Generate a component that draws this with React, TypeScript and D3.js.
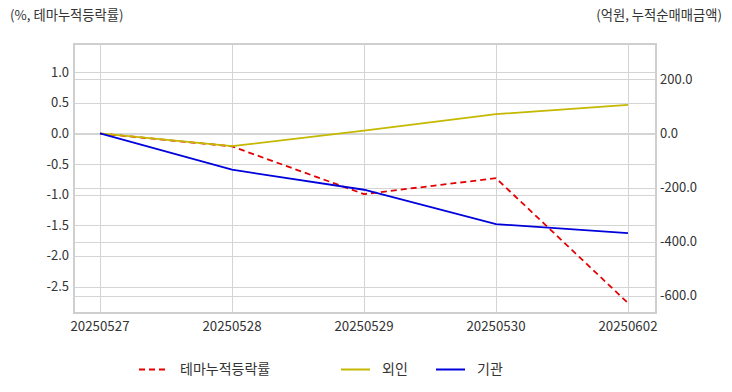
import React, { useEffect, useRef } from 'react'
import * as d3 from 'd3'

const dates = ['20250527', '20250528', '20250529', '20250530', '20250602']
const themeRate = [0.0, -0.21, -0.99, -0.73, -2.77]
const foreign = [0, -47, 10, 71, 105]
const institution = [0, -134, -208, -335, -368]

const leftTicks = [1.0, 0.5, 0.0, -0.5, -1.0, -1.5, -2.0, -2.5]
const rightTicks = [200, 0, -200, -400, -600]

const width = 732
const height = 392
const font = '"Noto Sans CJK KR", "Noto Sans", sans-serif'

export default function App() {
  const ref = useRef<SVGSVGElement>(null)

  useEffect(() => {
    const svg = d3.select(ref.current)
    svg.selectAll('*').remove()

    const plot = { left: 74, right: 656, top: 44, bottom: 313 }

    const x = d3
      .scalePoint<string>()
      .domain(dates)
      .range([plot.left + 26, plot.right - 28])
    const yLeft = d3.scaleLinear().domain([-2.933, 1.463]).range([plot.bottom, plot.top])
    const yRight = d3.scaleLinear().domain([-663, 330]).range([plot.bottom, plot.top])

    const g = svg.append('g').style('font-family', font)

    // grid, both axes draw their own horizontal lines
    const grid = g.append('g').attr('stroke', '#d4d4d4').attr('stroke-width', 1)
    grid
      .selectAll('line.l')
      .data(leftTicks)
      .join('line')
      .attr('x1', plot.left)
      .attr('x2', plot.right)
      .attr('y1', (d) => Math.round(yLeft(d)) + 0.5)
      .attr('y2', (d) => Math.round(yLeft(d)) + 0.5)
    grid
      .selectAll('line.r')
      .data(rightTicks)
      .join('line')
      .attr('x1', plot.left)
      .attr('x2', plot.right)
      .attr('y1', (d) => Math.round(yRight(d)) + 0.5)
      .attr('y2', (d) => Math.round(yRight(d)) + 0.5)
    grid
      .selectAll('line.v')
      .data(dates)
      .join('line')
      .attr('x1', (d) => Math.round(x(d)!) + 0.5)
      .attr('x2', (d) => Math.round(x(d)!) + 0.5)
      .attr('y1', plot.top)
      .attr('y2', plot.bottom)

    g.append('rect')
      .attr('x', plot.left)
      .attr('y', plot.top)
      .attr('width', plot.right - plot.left)
      .attr('height', plot.bottom - plot.top)
      .attr('fill', 'none')
      .attr('stroke', '#cfcfcf')
      .attr('stroke-width', 2)

    // tick labels
    g.append('g')
      .selectAll('text')
      .data(leftTicks)
      .join('text')
      .attr('x', plot.left - 5)
      .attr('y', (d) => yLeft(d))
      .attr('dy', '0.35em')
      .attr('text-anchor', 'end')
      .attr('font-size', 13)
      .attr('fill', '#333')
      .text((d) => d.toFixed(1))
    g.append('g')
      .selectAll('text')
      .data(rightTicks)
      .join('text')
      .attr('x', plot.right + 4)
      .attr('y', (d) => yRight(d))
      .attr('dy', '0.35em')
      .attr('font-size', 13)
      .attr('fill', '#333')
      .text((d) => d.toFixed(1))
    g.append('g')
      .selectAll('text')
      .data(dates)
      .join('text')
      .attr('x', (d) => x(d)!)
      .attr('y', plot.bottom + 13)
      .attr('dy', '0.35em')
      .attr('text-anchor', 'middle')
      .attr('font-size', 13.3)
      .attr('fill', '#333')
      .text((d) => d)

    // axis titles
    g.append('text')
      .attr('x', 10)
      .attr('y', 20)
      .attr('font-size', 13.3)
      .attr('fill', '#333')
      .text('(%, 테마누적등락률)')
    g.append('text')
      .attr('x', 722)
      .attr('y', 20)
      .attr('text-anchor', 'end')
      .attr('font-size', 13.3)
      .attr('fill', '#333')
      .text('(억원, 누적순매매금액)')

    const series = [
      { name: '테마누적등락률', values: themeRate, scale: yLeft, color: '#e50000', dash: '6,4' },
      { name: '외인', values: foreign, scale: yRight, color: '#c4b800', dash: null },
      { name: '기관', values: institution, scale: yRight, color: '#0000dc', dash: null },
    ]

    series.forEach((s) => {
      const line = d3
        .line<number>()
        .x((_, i) => x(dates[i])!)
        .y((d) => s.scale(d))
      g.append('path')
        .datum(s.values)
        .attr('d', line)
        .attr('fill', 'none')
        .attr('stroke', s.color)
        .attr('stroke-width', 1.8)
        .attr('stroke-dasharray', s.dash)
    })

    // legend
    const legendPos = [139, 341, 436]
    const legend = g.append('g')
    series.forEach((s, i) => {
      const lx = legendPos[i]
      legend
        .append('line')
        .attr('x1', lx)
        .attr('x2', lx + 29)
        .attr('y1', 369.5)
        .attr('y2', 369.5)
        .attr('stroke', s.color)
        .attr('stroke-width', 2)
        .attr('stroke-dasharray', s.dash)
      legend
        .append('text')
        .attr('x', lx + 41)
        .attr('y', 369)
        .attr('dy', '0.35em')
        .attr('font-size', 14)
        .attr('fill', '#333')
        .text(s.name)
    })
  }, [])

  return (
    <div style={{ position: 'fixed', left: 0, top: 0 }}>
      <svg ref={ref} width={width} height={height} style={{ display: 'block', background: '#fff' }} />
    </div>
  )
}
